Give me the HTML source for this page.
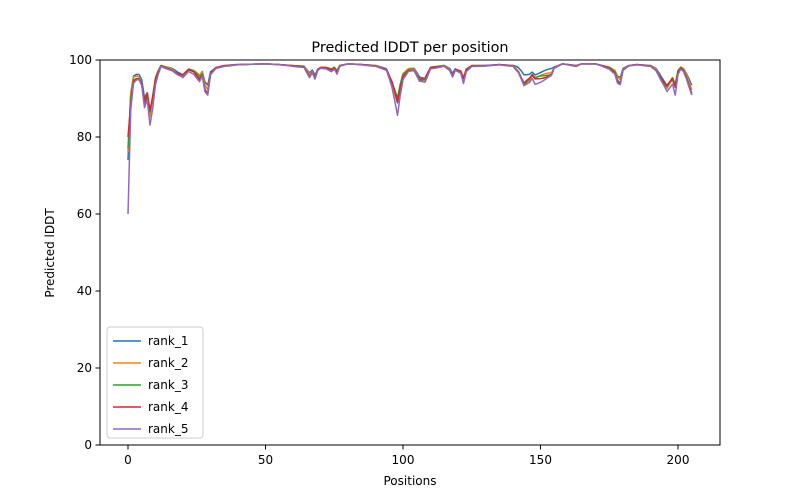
<!DOCTYPE html>
<html><head><meta charset="utf-8"><style>
body{margin:0;background:#fff}
svg{display:block;font-family:"DejaVu Sans","Liberation Sans",sans-serif}
</style></head><body>
<svg id="s" width="800" height="500" viewBox="0 0 800 500">
<rect width="800" height="500" fill="#fff"/>
<text x="410" y="52" font-size="14.4" text-anchor="middle" fill="#000">Predicted lDDT per position</text>
<g id="lines" fill="none" stroke-width="1.5" stroke-linejoin="round"></g>
<rect x="100" y="60" width="620" height="385" fill="none" stroke="#000" stroke-width="1"/>
<g stroke="#000" stroke-width="1">
<line x1="128" y1="445" x2="128" y2="449.5"/><line x1="265.5" y1="445" x2="265.5" y2="449.5"/><line x1="403" y1="445" x2="403" y2="449.5"/><line x1="540.5" y1="445" x2="540.5" y2="449.5"/><line x1="678" y1="445" x2="678" y2="449.5"/>
<line x1="95.5" y1="445" x2="100" y2="445"/><line x1="95.5" y1="368" x2="100" y2="368"/><line x1="95.5" y1="291" x2="100" y2="291"/><line x1="95.5" y1="214" x2="100" y2="214"/><line x1="95.5" y1="137" x2="100" y2="137"/><line x1="95.5" y1="60" x2="100" y2="60"/>
</g>
<g font-size="12" fill="#000" text-anchor="middle">
<text x="128" y="464">0</text><text x="265.5" y="464">50</text><text x="403" y="464">100</text><text x="540.5" y="464">150</text><text x="678" y="464">200</text>
<text x="410" y="485">Positions</text>
</g>
<g font-size="12" fill="#000" text-anchor="end">
<text x="92" y="449">0</text><text x="92" y="372">20</text><text x="92" y="295">40</text><text x="92" y="218">60</text><text x="92" y="141">80</text><text x="92" y="64">100</text>
</g>
<text transform="translate(54,253) rotate(-90)" font-size="12" text-anchor="middle">Predicted lDDT</text>
<rect x="107" y="327" width="96" height="111" rx="3" fill="#fff" fill-opacity="0.8" stroke="#ccc"/>
<g stroke-width="1.5">
<line x1="113" y1="341" x2="141" y2="341" stroke="#1f77b4"/>
<line x1="113" y1="363" x2="141" y2="363" stroke="#ff7f0e"/>
<line x1="113" y1="385" x2="141" y2="385" stroke="#2ca02c"/>
<line x1="113" y1="407" x2="141" y2="407" stroke="#d62728"/>
<line x1="113" y1="429" x2="141" y2="429" stroke="#9467bd"/>
</g>
<g font-size="12" fill="#000">
<text x="148" y="345">rank_1</text><text x="148" y="367">rank_2</text><text x="148" y="389">rank_3</text><text x="148" y="411">rank_4</text><text x="148" y="433">rank_5</text>
</g>
</svg>
<script>
var k=[[0,75],[1,90],[2,95],[3,95.5],[4,95.5],[5,94],[6,89],[7,91],[8,86],[9,90],[10,95],[11,97],[12,98.5],[14,98],[16,97.5],[18,96.5],[20,96],[22,97.5],[24,97],[26,95.5],[27,96.5],[28,93],[29,92],[30,96.5],[32,98],[35,98.5],[40,98.8],[50,99],[55,98.8],[60,98.5],[64,98.3],[66,96],[67,97],[68,95.5],[69,97.5],[70,98],[72,98],[74,97.5],[75,98],[76,97],[77,98.5],[80,99],[85,98.8],[90,98.5],[94,97.5],[96,94],[98,89],[99,93],[100,96],[102,97.5],[104,97.5],[106,95],[108,95],[110,98],[115,98.5],[117,97.5],[118,96],[119,97.5],[121,97],[122,95],[123,97.5],[125,98.5],[130,98.5],[135,98.8],[140,98.5],[142,97],[144,94],[146,95],[147,96],[148,95],[150,95.5],[152,96],[154,96.5],[155,98],[158,99],[163,98.5],[165,99],[170,99],[175,98],[177,97],[178,95],[179,94.5],[180,97.5],[182,98.5],[185,98.8],[190,98.5],[192,97.5],[194,95],[196,93],[198,95],[199,93],[200,97],[201,98],[202,97.5],[203,96],[205,92]];
function base(i){for(var j=0;j<k.length-1;j++){if(i>=k[j][0]&&i<=k[j+1][0]){var t=(i-k[j][0])/(k[j+1][0]-k[j][0]);return k[j][1]+t*(k[j+1][1]-k[j][1]);}}return 92;}
var cols=["#1f77b4","#ff7f0e","#2ca02c","#d62728","#9467bd"],st=[74,76,77,80,60];
var off=[0.1,0.05,0.0,-0.05,-0.25];
var g=document.getElementById("lines"),h="";
for(var s=0;s<5;s++){var p=[];for(var i=0;i<=205;i++){var v=base(i);
var d=99-v;var n=Math.sin(i*0.5+s*1.3)*0.12*d+off[s]*d;if(s==0&&i>140&&i<155)n+=0.3*d;
v=Math.min(99.1,v+n);if(i==0)v=st[s];
p.push((128+i*2.75).toFixed(2)+","+(445-v*3.85).toFixed(2));}
h+='<polyline stroke="'+cols[s]+'" points="'+p.join(" ")+'"/>';}
g.innerHTML=h;
</script>
</body></html>
